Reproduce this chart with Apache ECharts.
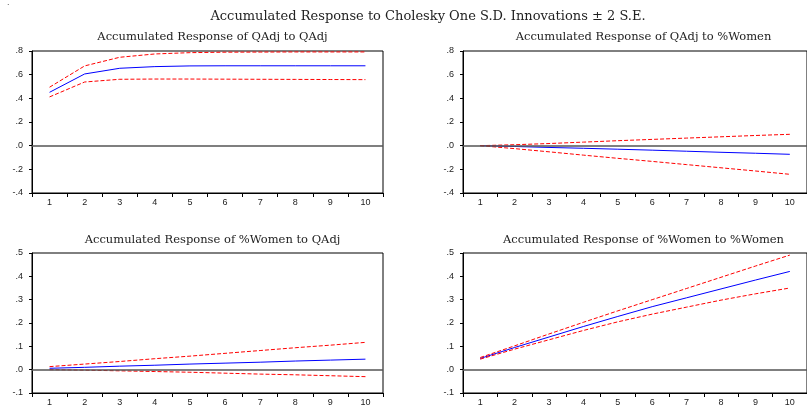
<!DOCTYPE html>
<html><head><meta charset="utf-8">
<script src="https://cdn.jsdelivr.net/npm/echarts@6/dist/echarts.min.js"></script>
<style>html,body{margin:0;padding:0;background:#fff}#c{width:807px;height:407px}</style>
</head><body><div id="c"></div>
<script>
const periods = ['1','2','3','4','5','6','7','8','9','10'];
const mainTitle = 'Accumulated Response to Cholesky One S.D. Innovations \u00b1 2 S.E.';
const panelTitles = [
  'Accumulated Response of QAdj to QAdj',
  'Accumulated Response of QAdj to %Women',
  'Accumulated Response of %Women to QAdj',
  'Accumulated Response of %Women to %Women'
];
// Panel 1: QAdj to QAdj
const p1Resp  = [0.451, 0.606, 0.654, 0.668, 0.674, 0.675, 0.675, 0.675, 0.675, 0.675];
const p1Upper = [0.494, 0.674, 0.747, 0.775, 0.786, 0.790, 0.791, 0.792, 0.792, 0.792];
const p1Lower = [0.412, 0.538, 0.561, 0.563, 0.563, 0.562, 0.561, 0.560, 0.559, 0.558];
// Panel 2: QAdj to %Women
const p2Resp  = [0.000, -0.007, -0.015, -0.022, -0.030, -0.038, -0.047, -0.056, -0.064, -0.073];
const p2Upper = [0.000, 0.008, 0.018, 0.030, 0.042, 0.053, 0.064, 0.075, 0.086, 0.096];
const p2Lower = [0.000, -0.025, -0.052, -0.080, -0.107, -0.133, -0.160, -0.187, -0.214, -0.242];
// Panel 3: %Women to QAdj
const p3Resp  = [0.006, 0.010, 0.015, 0.019, 0.024, 0.028, 0.032, 0.037, 0.041, 0.045];
const p3Upper = [0.013, 0.024, 0.035, 0.047, 0.058, 0.070, 0.082, 0.094, 0.105, 0.117];
const p3Lower = [0.000, -0.002, -0.005, -0.008, -0.011, -0.015, -0.019, -0.022, -0.026, -0.030];
// Panel 4: %Women to %Women
const p4Resp  = [0.048, 0.095, 0.140, 0.185, 0.228, 0.270, 0.308, 0.346, 0.384, 0.421];
const p4Upper = [0.052, 0.102, 0.153, 0.203, 0.252, 0.300, 0.348, 0.396, 0.444, 0.491];
const p4Lower = [0.045, 0.088, 0.128, 0.168, 0.205, 0.238, 0.268, 0.298, 0.325, 0.350];
// axis ranges
const topRange = {min: -0.4, max: 0.8, interval: 0.2};
const botRange = {min: -0.1, max: 0.5, interval: 0.1};

const panels = [
  {resp: p1Resp, up: p1Upper, lo: p1Lower, range: topRange},
  {resp: p2Resp, up: p2Upper, lo: p2Lower, range: topRange},
  {resp: p3Resp, up: p3Upper, lo: p3Lower, range: botRange},
  {resp: p4Resp, up: p4Upper, lo: p4Lower, range: botRange}
];
const gridPos = [
  {left: 32, top: 51, width: 351, height: 142},
  {left: 463, top: 51, width: 351, height: 142},
  {left: 32, top: 253, width: 351, height: 142.5},
  {left: 463, top: 253, width: 351, height: 142.5}
];
const titlePos = [
  {x: 207.5, y: 33}, {x: 638.5, y: 33}, {x: 207.5, y: 236}, {x: 638.5, y: 236}
];
const serif = 'DejaVu Serif';
const sans = 'Liberation Sans';
function fmt(v){ let s = Number(v).toFixed(1); if (s === '-0.0') s = '0.0'; return s.replace('0.', '.'); }

const option = {
  animation: false,
  backgroundColor: '#fff',
  title: [{text: mainTitle, left: 423, top: 5, textAlign: 'center',
    textStyle: {fontFamily: serif, fontSize: 13, fontWeight: 'normal', color: '#222'}}]
    .concat(panelTitles.map((t, i) => ({text: t, left: titlePos[i].x, top: titlePos[i].y - 7, textAlign: 'center',
      textStyle: {fontFamily: serif, fontSize: 11.5, fontWeight: 'normal', color: '#222'}}))),
  grid: gridPos.map(g => Object.assign({show: true, borderColor: '#000', borderWidth: 1, backgroundColor: '#fff'}, g)),
  xAxis: panels.map((p, i) => ({
    type: 'category', gridIndex: i, data: periods, boundaryGap: true, position: 'bottom',
    axisLine: {show: true, onZero: false, lineStyle: {color: '#000', width: 1}},
    axisTick: {show: true, inside: false, length: 4, lineStyle: {color: '#000'}},
    axisLabel: {margin: 5, fontFamily: sans, fontSize: 9, color: '#222'},
    splitLine: {show: false}
  })),
  yAxis: panels.map((p, i) => ({
    type: 'value', gridIndex: i, min: p.range.min, max: p.range.max, interval: p.range.interval,
    axisLine: {show: true, onZero: false, lineStyle: {color: '#000', width: 1}},
    axisTick: {show: true, inside: false, length: 3, lineStyle: {color: '#000'}},
    axisLabel: {margin: 9, fontFamily: sans, fontSize: 9, color: '#222', formatter: fmt},
    splitLine: {show: false}
  })),
  series: []
};
panels.forEach((p, i) => {
  option.series.push({
    type: 'line', xAxisIndex: i, yAxisIndex: i, data: p.resp, symbol: 'none',
    lineStyle: {color: '#0000ff', width: 1}, z: 3,
    markLine: {silent: true, symbol: 'none', label: {show: false},
      lineStyle: {color: '#555', width: 1.5, type: 'solid'}, data: [{yAxis: 0}]}
  });
  option.series.push({
    type: 'line', xAxisIndex: i, yAxisIndex: i, data: p.up, symbol: 'none',
    lineStyle: {color: '#ff0000', width: 1, type: [4, 2]}, z: 3
  });
  option.series.push({
    type: 'line', xAxisIndex: i, yAxisIndex: i, data: p.lo, symbol: 'none',
    lineStyle: {color: '#ff0000', width: 1, type: [4, 2]}, z: 3
  });
});
option.graphic = [{type: 'text', left: 7, top: -2, style: {text: '.', fontSize: 9, fill: '#555'}}];
const chart = echarts.init(document.getElementById('c'), null, {renderer: 'canvas'});
chart.setOption(option);
</script></body></html>
